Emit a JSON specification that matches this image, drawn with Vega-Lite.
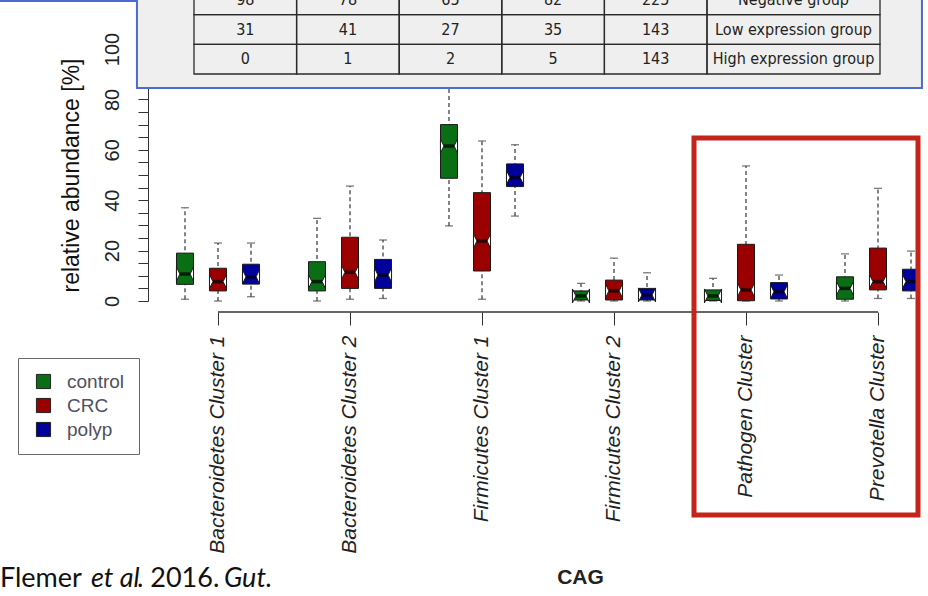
{
  "$schema": "https://vega.github.io/schema/vega-lite/v6.json",
  "width": 928,
  "height": 596,
  "autosize": {"type": "none"},
  "padding": 0,
  "background": "white",
  "config": {
    "view": {"stroke": null},
    "font": "Liberation Sans",
    "axisY": {"offset": -148, "grid": false, "labelAngle": -90, "labelAlign": "center", "labelBaseline": "alphabetic", "labelFontSize": 20, "labelColor": "#222", "labelPadding": 20, "tickSize": 10, "tickColor": "#333", "domainColor": "#333", "titleFontSize": 23, "titleFontWeight": "normal", "titleColor": "#111", "titlePadding": 19},
    "axisX": {"grid": false}
  },
  "datasets": {
    "boxes": [
      {"cag": "Bacteroidetes Cluster 1", "group": "control", "lo": 0.7, "q1": 6.6, "med": 10.7, "q3": 19, "hi": 37},
      {"cag": "Bacteroidetes Cluster 1", "group": "CRC", "lo": 0, "q1": 4, "med": 7.7, "q3": 13, "hi": 23},
      {"cag": "Bacteroidetes Cluster 1", "group": "polyp", "lo": 1.7, "q1": 6.7, "med": 9.6, "q3": 14.6, "hi": 23},
      {"cag": "Bacteroidetes Cluster 2", "group": "control", "lo": 0, "q1": 4, "med": 7.7, "q3": 15.6, "hi": 32.8},
      {"cag": "Bacteroidetes Cluster 2", "group": "CRC", "lo": 0.7, "q1": 5, "med": 11.4, "q3": 25.3, "hi": 45.6},
      {"cag": "Bacteroidetes Cluster 2", "group": "polyp", "lo": 1, "q1": 5, "med": 10.3, "q3": 16.5, "hi": 24.2},
      {"cag": "Firmicutes Cluster 1", "group": "control", "lo": 29.8, "q1": 48.7, "med": 61.5, "q3": 70, "hi": 92},
      {"cag": "Firmicutes Cluster 1", "group": "CRC", "lo": 0.7, "q1": 11.9, "med": 23.8, "q3": 43, "hi": 63.5},
      {"cag": "Firmicutes Cluster 1", "group": "polyp", "lo": 33.7, "q1": 45.4, "med": 49, "q3": 54.4, "hi": 62},
      {"cag": "Firmicutes Cluster 2", "group": "control", "lo": 0, "q1": 0.4, "med": 2, "q3": 4, "hi": 7},
      {"cag": "Firmicutes Cluster 2", "group": "CRC", "lo": 0, "q1": 0.4, "med": 4, "q3": 8.3, "hi": 17},
      {"cag": "Firmicutes Cluster 2", "group": "polyp", "lo": 0, "q1": 0.4, "med": 2.4, "q3": 5, "hi": 11.2},
      {"cag": "Pathogen Cluster", "group": "control", "lo": 0, "q1": 0.2, "med": 2, "q3": 4.4, "hi": 9},
      {"cag": "Pathogen Cluster", "group": "CRC", "lo": 0, "q1": 0.1, "med": 4.4, "q3": 22.5, "hi": 53.6},
      {"cag": "Pathogen Cluster", "group": "polyp", "lo": 0, "q1": 0.8, "med": 3.7, "q3": 7.3, "hi": 10.3},
      {"cag": "Prevotella Cluster", "group": "control", "lo": 0, "q1": 0.7, "med": 5, "q3": 9.6, "hi": 18.7},
      {"cag": "Prevotella Cluster", "group": "CRC", "lo": 1, "q1": 4.4, "med": 7.7, "q3": 21, "hi": 44.7},
      {"cag": "Prevotella Cluster", "group": "polyp", "lo": 1, "q1": 4, "med": 7.7, "q3": 12.6, "hi": 19.8}
    ],
    "counts": [
      {"row": "Negative group", "col": "1", "n": 98},
      {"row": "Negative group", "col": "2", "n": 78},
      {"row": "Negative group", "col": "3", "n": 65},
      {"row": "Negative group", "col": "4", "n": 82},
      {"row": "Negative group", "col": "5", "n": 225},
      {"row": "Low expression group", "col": "1", "n": 31},
      {"row": "Low expression group", "col": "2", "n": 41},
      {"row": "Low expression group", "col": "3", "n": 27},
      {"row": "Low expression group", "col": "4", "n": 35},
      {"row": "Low expression group", "col": "5", "n": 143},
      {"row": "High expression group", "col": "1", "n": 0},
      {"row": "High expression group", "col": "2", "n": 1},
      {"row": "High expression group", "col": "3", "n": 2},
      {"row": "High expression group", "col": "4", "n": 5},
      {"row": "High expression group", "col": "5", "n": 143}
    ],
    "rows": [
      {"row": "Negative group"},
      {"row": "Low expression group"},
      {"row": "High expression group"}
    ]
  },
  "resolve": {
    "scale": {"x": "independent", "y": "independent", "color": "independent"},
    "axis": {"x": "independent", "y": "independent"}
  },
  "layer": [
    {
      "data": {"name": "boxes"},
      "encoding": {
        "x": {
          "field": "cag", "type": "nominal", "title": "CAG",
          "scale": {"domain": ["Bacteroidetes Cluster 1", "Bacteroidetes Cluster 2", "Firmicutes Cluster 1", "Firmicutes Cluster 2", "Pathogen Cluster", "Prevotella Cluster"], "range": [152, 944], "paddingInner": 0, "paddingOuter": 0},
          "axis": {"orient": "bottom", "offset": -284, "domain": false, "tickSize": 13, "tickColor": "#333", "labelAngle": -90, "labelFontSize": 21, "labelFontStyle": "italic", "labelColor": "#222", "labelPadding": 10, "labelLimit": 400, "titleFontSize": 21, "titleFontWeight": "bold", "titleColor": "#222", "titleX": 580, "titleY": 271, "titleAnchor": "middle", "titleAlign": "center", "titleBaseline": "alphabetic"}
        },
        "xOffset": {"field": "group", "type": "nominal", "scale": {"domain": ["control", "CRC", "polyp"], "paddingInner": 0.485, "paddingOuter": 0.742}}
      },
      "layer": [
        {
          "mark": {"type": "rule", "color": "#444", "strokeWidth": 1.3, "strokeDash": [4, 3]},
          "encoding": {
            "y": {"field": "lo", "type": "quantitative", "title": "relative abundance [%]", "scale": {"domain": [0, 100], "range": [301, 49], "nice": false, "zero": false}},
            "y2": {"field": "hi"}
          }
        },
        {
          "mark": {"type": "tick", "orient": "horizontal", "color": "#444", "size": 8, "thickness": 1.3},
          "encoding": {
            "y": {"field": "hi", "type": "quantitative", "title": "relative abundance [%]", "scale": {"domain": [0, 100], "range": [301, 49], "nice": false, "zero": false}}
          }
        },
        {
          "mark": {"type": "tick", "orient": "horizontal", "color": "#444", "size": 8, "thickness": 1.3},
          "encoding": {
            "y": {"field": "lo", "type": "quantitative", "title": "relative abundance [%]", "scale": {"domain": [0, 100], "range": [301, 49], "nice": false, "zero": false}}
          }
        },
        {
          "mark": {"type": "bar", "stroke": "#1a1a1a", "strokeWidth": 1},
          "encoding": {
            "y": {"field": "q1", "type": "quantitative", "title": "relative abundance [%]", "scale": {"domain": [0, 100], "range": [301, 49], "nice": false, "zero": false}},
            "y2": {"field": "q3"},
            "color": {
              "field": "group", "type": "nominal",
              "scale": {"domain": ["control", "CRC", "polyp"], "range": ["#0a6e14", "#9a0000", "#00009a"]},
              "legend": {"orient": "none", "legendX": 18, "legendY": 358, "title": null, "symbolType": "square", "symbolSize": 200, "symbolStrokeColor": "#222", "symbolStrokeWidth": 1, "symbolOpacity": 1, "symbolOffset": 2, "labelFontSize": 19, "labelColor": "#505060", "labelOffset": 14, "rowPadding": 4, "padding": 14, "strokeColor": "#6a6a6a", "fillColor": "white"}
            }
          }
        },
        {
          "mark": {"type": "point", "shape": "M-1.22,-1L-0.72,0L-1.22,1ZM1.22,-1L0.72,0L1.22,1Z", "filled": true, "fill": "white", "stroke": "#1a1a1a", "strokeWidth": 1, "opacity": 1, "size": 196},
          "encoding": {
            "y": {"field": "med", "type": "quantitative", "title": "relative abundance [%]", "scale": {"domain": [0, 100], "range": [301, 49], "nice": false, "zero": false}}
          }
        },
        {
          "mark": {"type": "tick", "orient": "horizontal", "color": "#000", "size": 10, "thickness": 3.5},
          "encoding": {
            "y": {"field": "med", "type": "quantitative", "title": "relative abundance [%]", "scale": {"domain": [0, 100], "range": [301, 49], "nice": false, "zero": false}}
          }
        }
      ]
    },
    {
      "data": {"values": [{}]},
      "mark": {"type": "rect", "fill": "#efefef", "stroke": "#4a6bd0", "strokeWidth": 2},
      "encoding": {
        "x": {"datum": 0.386, "type": "quantitative", "scale": {"domain": [0.5, 6.5], "range": [152, 944], "nice": false, "zero": false}, "axis": null},
        "x2": {"datum": 6.333},
        "y": {"datum": 123, "type": "quantitative", "scale": {"domain": [0, 100], "range": [301, 49], "nice": false, "zero": false}, "axis": null},
        "y2": {"datum": 84.5}
      }
    },
    {
      "data": {"name": "counts"},
      "encoding": {
        "x": {"field": "col", "type": "nominal", "scale": {"domain": ["1", "2", "3", "4", "5"], "range": [194, 707], "paddingInner": 0, "paddingOuter": 0}, "axis": null},
        "y": {"field": "row", "type": "nominal", "scale": {"domain": ["Negative group", "Low expression group", "High expression group"], "range": [-15, 74], "paddingInner": 0, "paddingOuter": 0}, "axis": null}
      },
      "layer": [
        {"mark": {"type": "rect", "fill": "transparent", "stroke": "#2a2a2a", "strokeWidth": 1.3}},
        {"mark": {"type": "text", "font": "Liberation Sans Narrow, DejaVu Sans Condensed, Liberation Sans", "fontSize": 16, "color": "#222", "baseline": "middle"}, "encoding": {"text": {"field": "n"}}}
      ]
    },
    {
      "data": {"name": "rows"},
      "encoding": {
        "x": {"datum": "label", "type": "nominal", "scale": {"domain": ["label"], "range": [707, 880], "paddingInner": 0, "paddingOuter": 0}, "axis": null},
        "y": {"field": "row", "type": "nominal", "scale": {"domain": ["Negative group", "Low expression group", "High expression group"], "range": [-15, 74], "paddingInner": 0, "paddingOuter": 0}, "axis": null}
      },
      "layer": [
        {"mark": {"type": "rect", "fill": "transparent", "stroke": "#2a2a2a", "strokeWidth": 1.3}},
        {"mark": {"type": "text", "font": "Liberation Sans Narrow, DejaVu Sans Condensed, Liberation Sans", "fontSize": 16, "color": "#222", "baseline": "middle"}, "encoding": {"text": {"field": "row"}}}
      ]
    },
    {
      "data": {"values": [{}]},
      "layer": [
        {
          "mark": {"type": "rule", "color": "#333", "strokeWidth": 1.3},
          "encoding": {
            "x": {"datum": 1, "type": "quantitative", "scale": {"domain": [0.5, 6.5], "range": [152, 944], "nice": false, "zero": false}, "axis": null},
            "x2": {"datum": 6},
            "y": {"datum": -4.37, "type": "quantitative", "scale": {"domain": [0, 100], "range": [301, 49], "nice": false, "zero": false}, "axis": null}
          }
        },
        {
          "mark": {"type": "rule", "color": "#4a6bd0", "strokeWidth": 2},
          "encoding": {
            "x": {"datum": -0.652, "type": "quantitative", "scale": {"domain": [0.5, 6.5], "range": [152, 944], "nice": false, "zero": false}, "axis": null},
            "x2": {"datum": 0.386},
            "y": {"datum": 119, "type": "quantitative", "scale": {"domain": [0, 100], "range": [301, 49], "nice": false, "zero": false}, "axis": null}
          }
        },
        {
          "mark": {"type": "rect", "fill": "transparent", "stroke": "#c4251a", "strokeWidth": 5},
          "encoding": {
            "x": {"datum": 4.606, "type": "quantitative", "scale": {"domain": [0.5, 6.5], "range": [152, 944], "nice": false, "zero": false}, "axis": null},
            "x2": {"datum": 6.303},
            "y": {"datum": 64.68, "type": "quantitative", "scale": {"domain": [0, 100], "range": [301, 49], "nice": false, "zero": false}, "axis": null},
            "y2": {"datum": -84.92}
          }
        },
        {
          "mark": {"type": "text", "text": "Flemer", "font": "Lato", "fontSize": 27, "color": "#111", "align": "left", "baseline": "alphabetic"},
          "encoding": {
            "x": {"datum": -0.652, "type": "quantitative", "scale": {"domain": [0.5, 6.5], "range": [152, 944], "nice": false, "zero": false}, "axis": null},
            "y": {"datum": -113.5, "type": "quantitative", "scale": {"domain": [0, 100], "range": [301, 49], "nice": false, "zero": false}, "axis": null}
          }
        },
        {
          "mark": {"type": "text", "text": "et al", "font": "Lato", "fontSize": 27, "fontStyle": "italic", "color": "#111", "align": "left", "baseline": "alphabetic"},
          "encoding": {
            "x": {"datum": 0.0379, "type": "quantitative", "scale": {"domain": [0.5, 6.5], "range": [152, 944], "nice": false, "zero": false}, "axis": null},
            "y": {"datum": -113.5, "type": "quantitative", "scale": {"domain": [0, 100], "range": [301, 49], "nice": false, "zero": false}, "axis": null}
          }
        },
        {
          "mark": {"type": "text", "text": ". 2016.", "font": "Lato", "fontSize": 27, "color": "#111", "align": "left", "baseline": "alphabetic"},
          "encoding": {
            "x": {"datum": 0.3864, "type": "quantitative", "scale": {"domain": [0.5, 6.5], "range": [152, 944], "nice": false, "zero": false}, "axis": null},
            "y": {"datum": -113.5, "type": "quantitative", "scale": {"domain": [0, 100], "range": [301, 49], "nice": false, "zero": false}, "axis": null}
          }
        },
        {
          "mark": {"type": "text", "text": "Gut.", "font": "Lato", "fontSize": 27, "fontStyle": "italic", "color": "#111", "align": "left", "baseline": "alphabetic"},
          "encoding": {
            "x": {"datum": 1.0455, "type": "quantitative", "scale": {"domain": [0.5, 6.5], "range": [152, 944], "nice": false, "zero": false}, "axis": null},
            "y": {"datum": -113.5, "type": "quantitative", "scale": {"domain": [0, 100], "range": [301, 49], "nice": false, "zero": false}, "axis": null}
          }
        }
      ]
    }
  ]
}
